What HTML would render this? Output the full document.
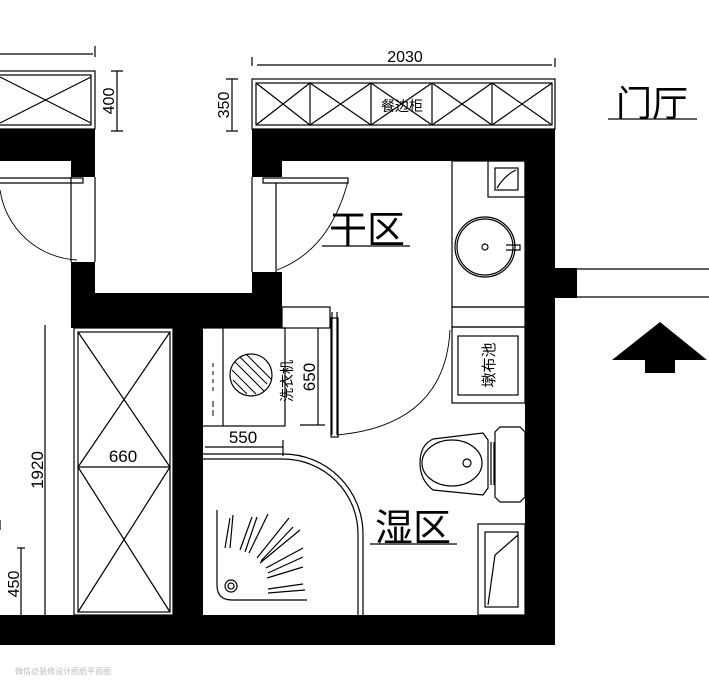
<!DOCTYPE html>
<html><head><meta charset="utf-8"><style>html,body{margin:0;padding:0;background:#fff}svg{display:block}</style></head>
<body>
<svg width="709" height="692" viewBox="0 0 709 692" xmlns="http://www.w3.org/2000/svg" font-family="Liberation Sans, Noto Sans CJK SC, sans-serif">
<rect width="709" height="692" fill="#fff"/>
<g fill="#000">
<!-- top walls -->
<rect x="0" y="129" width="95" height="32"/>
<rect x="71" y="161" width="24" height="16"/>
<rect x="252" y="129" width="303" height="32"/>
<rect x="252" y="161" width="30" height="16"/>
<!-- right wall -->
<rect x="525" y="129" width="30" height="516"/>
<rect x="555" y="268" width="22" height="30"/>
<!-- corridor walls -->
<rect x="71" y="262" width="24" height="66"/>
<rect x="71" y="293" width="211" height="35"/>
<rect x="252" y="272" width="30" height="56"/>
<rect x="173" y="328" width="30" height="290"/>
<!-- bottom wall -->
<rect x="0" y="615" width="555" height="30"/>
<!-- arrow -->
<polygon points="660,322 707,360 612,360"/>
<rect x="645" y="359" width="30" height="14"/>
</g>
<g fill="none" stroke="#000" stroke-width="1.2">
<!-- left cabinet -->
<rect x="-2" y="71" width="97" height="58"/>
<rect x="-2" y="75" width="93" height="50"/>
<path d="M0,77 L91,123 M0,123 L91,77"/>
<!-- right cabinet -->
<rect x="252" y="79" width="303" height="50"/>
<rect x="256" y="83" width="296" height="42"/>
<path d="M310,83V125 M371,83V125 M432,83V125 M492,83V125"/>
<path d="M256,83L310,125M310,83L256,125 M310,83L371,125M371,83L310,125 M371,83L432,125M432,83L371,125 M432,83L492,125M492,83L432,125 M492,83L552,125M552,83L492,125"/>
<!-- dims top -->
<path d="M0,54H93 M95,46V57 M257,65H552 M252,57V66 M555,58V67"/>
<path d="M111,71H123 M117,71V131 M111,131H123"/>
<path d="M226,79H238 M232,79V131 M226,131H238"/>
<!-- doors -->
<path d="M0,178H83V183H0"/>
<path d="M71,177V262 M95,177V262"/>
<path d="M0,190 A82,82 0 0 0 77,260" stroke-width="0.9"/>
<path d="M263,178H348V183H263Z"/>
<path d="M252,177V272 M276,183V272"/>
<path d="M348,181 Q330,250 277,270" stroke-width="0.9"/>
<!-- opening lines right -->
<path d="M577,269H709 M577,297H709"/>
<!-- vanity -->
<rect x="452" y="161" width="73" height="146"/>
<rect x="488" y="161" width="37" height="36"/>
<rect x="495" y="168" width="23" height="22"/>
<path d="M497,188 Q505,175 516,170"/>
<circle cx="485" cy="247" r="30"/><circle cx="485" cy="247" r="28"/>
<circle cx="485" cy="247" r="3"/>
<path d="M506,245H520V250H506"/>
<rect x="452" y="307" width="73" height="20"/>
<!-- mop basin -->
<rect x="452" y="327" width="73" height="76"/>
<rect x="458" y="336" width="60" height="59"/>
<!-- dry door -->
<path d="M332,312V435 M337,312V435"/>
<path d="M450,330 Q445,425 337,435" stroke-width="0.9"/>
<!-- toilet -->
<path d="M500,427H520L525,432V497L520,502H500L495,497V432Z"/>
<path d="M491,442V485 M494,442V485"/>
<path d="M433,439 L483,433 L488,440 L488,488 L483,495 L433,490 Q420,480 420,463 Q420,445 433,439Z"/>
<ellipse cx="452" cy="463" rx="30" ry="23"/>
<circle cx="467" cy="463" r="4"/>
<!-- small cabinet bottom right -->
<rect x="478" y="524" width="47" height="91"/>
<rect x="485" y="532" width="33" height="75"/>
<path d="M518,535 L495,555 L488,605"/>
<!-- tall cabinet -->
<rect x="74" y="328" width="99" height="287"/>
<rect x="78" y="332" width="92" height="280"/>
<path d="M78,467H170 M78,332L170,467M170,332L78,467 M78,467L170,612M170,467L78,612"/>
<!-- washing machine -->
<rect x="202" y="328" width="83" height="98"/>
<path d="M223,328V426"/>
<rect x="282" y="307" width="48" height="21"/>
<rect x="331" y="318" width="7" height="119"/>
<path d="M318,328V425 M300,425H325"/>
<!-- 550 dim -->
<path d="M205,447H283 M283,440V456"/>
<!-- shower screen -->
<path d="M203,454H283 A80,80 0 0 1 363,534V615 M203,459H283 A75,75 0 0 1 358,534V615"/>
<!-- shower tray -->
<path d="M217,510V585 Q217,600 232,600H307"/>
<circle cx="231" cy="586" r="6"/><circle cx="231" cy="586" r="3"/>
<path d="M225,548L230,518 M230,548L233,515 M240,550L252,517 M245,552L257,517 M249,553L268,514 M257,558L289,518 M261,561L293,527 M260,563L300,530 M266,568L303,548 M268,573L303,557 M267,578L303,567 M268,589L303,584 M268,593L305,590"/>
<!-- left dims -->
<path d="M45,325V615 M21,548V615 M17,548H25 M0,520V530"/>
</g>
<g fill="none" stroke="#000" stroke-width="1.2">
<path d="M608,119H697 M322,246H410 M370,544H457"/>
</g>
<circle cx="251" cy="375" r="21" fill="#fff" stroke="#000" stroke-width="1.2"/>
<g stroke="#000" stroke-width="1">
<path d="M235,362L264,391 M232,370L256,394 M240,357L267,384 M246,354L271,379 M233,380L247,394"/>
<path d="M213,363V367 M213,371V375 M213,379V383 M213,387V391 M213,401V407 M213,410V416"/>
</g>
<g fill="#000">
<text x="405" y="62" font-size="16" text-anchor="middle">2030</text>
<text transform="translate(114,101) rotate(-90)" font-size="16" text-anchor="middle">400</text>
<text transform="translate(229,105) rotate(-90)" font-size="16" text-anchor="middle">350</text>
<text x="402" y="111" font-size="14" text-anchor="middle">餐边柜</text>
<text x="652" y="116" font-size="36" text-anchor="middle">门厅</text>
<text x="367" y="243" font-size="38" text-anchor="middle">干区</text>
<text x="413" y="541" font-size="38" text-anchor="middle">湿区</text>
<text transform="translate(494,365) rotate(-90)" font-size="15" text-anchor="middle">墩布池</text>
<text transform="translate(292,381) rotate(-90)" font-size="14" text-anchor="middle">洗衣机</text>
<text transform="translate(315,377) rotate(-90)" font-size="17" text-anchor="middle">650</text>
<text x="243" y="443" font-size="17" text-anchor="middle">550</text>
<text x="123" y="462" font-size="17" text-anchor="middle">660</text>
<text transform="translate(43,470) rotate(-90)" font-size="17" text-anchor="middle">1920</text>
<text transform="translate(19,584) rotate(-90)" font-size="16" text-anchor="middle">450</text>
<text x="15" y="674" font-size="8" fill="#bbb">微信@装修设计图纸平面图</text>
</g>
</svg>
</body></html>
